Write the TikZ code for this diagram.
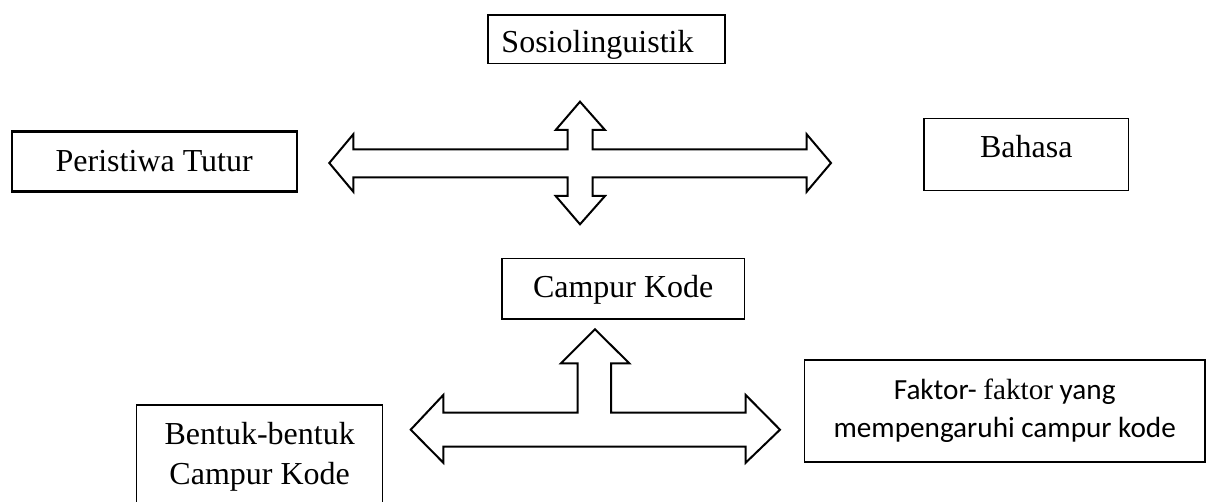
\documentclass[tikz,border=0pt]{standalone}
\usepackage{fontspec}
\setmainfont{Liberation Serif}
\newfontfamily\carlito{Carlito}
\begin{document}
\begin{tikzpicture}[x=0.5pt,y=-0.5pt,
  box/.style={draw=black, line width=0.75pt, inner sep=0pt, align=center,
    font=\fontsize{16}{20}\selectfont, text depth=0pt},
  blockarrow/.style={draw=black, line width=1pt, line join=miter, fill=white}]
\useasboundingbox (0,0) rectangle (1206,502);
\clip (0,0) rectangle (1206,502);

% boxes
\node[box, minimum width=118.5pt, minimum height=24.2pt, text height=13.5pt] (sosio) at (606.5,39.2) {Sosiolinguistik\hspace{9pt}};
\node[box, line width=1.2pt, minimum width=142.5pt, minimum height=30pt, text height=10pt] (peristiwa) at (154.2,161.7) {Peristiwa Tutur};
\node[box, minimum width=102.3pt, minimum height=36.2pt, text height=3.5pt] (bahasa) at (1026.3,154.5) {Bahasa};
\node[box, minimum width=121.2pt, minimum height=30.2pt, text height=9.2pt] (campur) at (623.2,288.8) {Campur Kode};
\node[box, minimum width=200.3pt, minimum height=51pt, text depth=, font=\carlito\fontsize{14.6}{19}\selectfont] (faktor) at (1004.7,411)
  {Faktor- {\rmfamily faktor} yang\\ mempengaruhi campur kode};
\node[box, minimum width=123pt, minimum height=51.5pt, text depth=] (bentuk) at (259.7,456.5)
  {Bentuk-bentuk\\Campur Kode};

% four-way block arrow
\draw[blockarrow] (329.3,163) -- (353.3,134.3) -- (353.3,149.3) -- (567.7,149.3)
  -- (567.7,130) -- (555.7,130) -- (580,101.7) -- (605,130) -- (592.7,130)
  -- (592.7,149.3) -- (806.7,149.3) -- (806.7,134.3) -- (831,163)
  -- (806.7,191.7) -- (806.7,177.3) -- (592.7,177.3) -- (592.7,196)
  -- (605,196) -- (580,224.3) -- (555.7,196) -- (567.7,196) -- (567.7,177.3)
  -- (353.3,177.3) -- (353.3,191.7) -- cycle;

% three-way block arrow
\draw[blockarrow] (410.7,429.7) -- (443.3,395) -- (443.3,412.7) -- (577.7,412.7)
  -- (577.7,363.3) -- (561,363.3) -- (595,329.3) -- (629.3,363.3) -- (611,363.3)
  -- (611,412.7) -- (745.7,412.7) -- (745.7,395) -- (780,429.7)
  -- (745.7,462.7) -- (745.7,446.7) -- (443.3,446.7) -- (443.3,462.7) -- cycle;
\end{tikzpicture}
\end{document}
